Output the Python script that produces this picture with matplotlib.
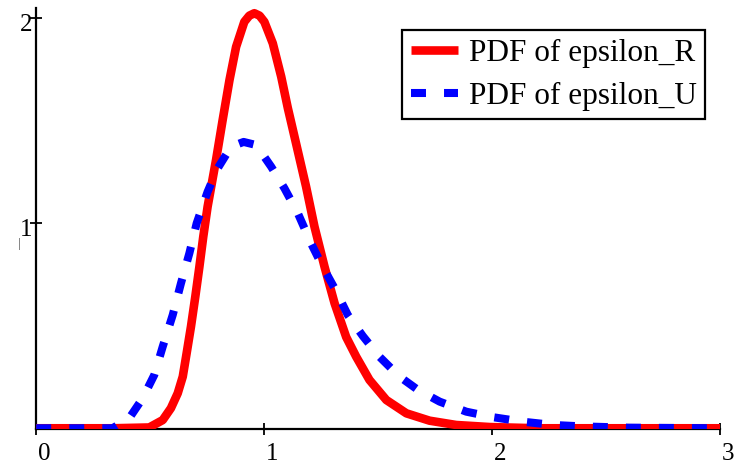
import matplotlib
matplotlib.use("Agg")
import matplotlib.pyplot as plt
from matplotlib.transforms import ScaledTranslation

plt.rcParams['font.family'] = ['Liberation Serif', 'DejaVu Serif']

# PDF of epsilon_R
x_r = [0.0, 0.335, 0.496, 0.555, 0.591, 0.621, 0.643, 0.66, 0.679, 0.698,
       0.716, 0.733, 0.752, 0.789, 0.818, 0.848, 0.877, 0.913, 0.935, 0.957,
       0.98, 1.001, 1.038, 1.075, 1.104, 1.14, 1.184, 1.221, 1.265, 1.309,
       1.36, 1.404, 1.462, 1.536, 1.624, 1.726, 1.843, 1.99, 2.2, 3.0]
y_r = [0.0, 0.0, 0.004, 0.04, 0.098, 0.171, 0.252, 0.366, 0.496, 0.642,
       0.788, 0.935, 1.081, 1.309, 1.504, 1.699, 1.861, 1.983, 2.013, 2.025,
       2.013, 1.983, 1.878, 1.715, 1.562, 1.39, 1.179, 0.983, 0.788, 0.61,
       0.445, 0.349, 0.236, 0.138, 0.073, 0.037, 0.016, 0.006, 0.0, 0.0]

# PDF of epsilon_U
x_u = [0.0, 0.335, 0.408, 0.467, 0.518, 0.555, 0.599, 0.635, 0.672, 0.704,
       0.752, 0.796, 0.855, 0.91, 0.965, 1.031, 1.089, 1.148, 1.206, 1.257,
       1.313, 1.367, 1.433, 1.506, 1.594, 1.675, 1.77, 1.887, 2.004, 2.136,
       2.27, 2.40, 2.6, 3.0]
y_u = [0.0, 0.0, 0.049, 0.146, 0.26, 0.398, 0.553, 0.707, 0.854, 1.0,
       1.154, 1.268, 1.374, 1.397, 1.382, 1.276, 1.171, 1.049, 0.902, 0.788,
       0.675, 0.553, 0.45, 0.349, 0.252, 0.187, 0.13, 0.081, 0.054, 0.032,
       0.016, 0.009, 0.003, 0.0]

x_ticks = [0, 1, 2, 3]
y_ticks = [1, 2]
labels = ['PDF of epsilon_R', 'PDF of epsilon_U']

W, H = 736, 465
fig = plt.figure(figsize=(W/100, H/100), dpi=100)
ax = fig.add_axes([36.2/W, 1-429.3/H, (720-36.2)/W, (429.3-8.3)/H])

ax.plot(x_r, y_r, color='#ff0000', lw=6.2, solid_joinstyle='round',
        solid_capstyle='butt', label=labels[0], zorder=3)
ax.plot(x_u, y_u, color='#0000ff', lw=5.8, dashes=(1.86, 2.24),
        dash_capstyle='butt', dash_joinstyle='round', label=labels[1], zorder=4)

ax.set_xlim(0, 3)
ax.set_ylim(-0.005, 2.049)
ax.set_xticks(x_ticks)
ax.set_yticks(y_ticks)
ax.set_xticklabels([str(t) for t in x_ticks])
ax.set_yticklabels([str(t) for t in y_ticks])
for s in ['top', 'right']:
    ax.spines[s].set_visible(False)
for s in ['left', 'bottom']:
    ax.spines[s].set_linewidth(1.6)
    ax.spines[s].set_color('black')
    ax.spines[s].set_zorder(2)
ax.tick_params(axis='both', direction='inout', length=9, width=1.3,
               labelsize=18, colors='black')
ax.tick_params(axis='y', pad=-1.5)
ax.tick_params(axis='x', pad=5.5)

for lbl in ax.get_xticklabels():
    lbl.set_ha('left')
    lbl.set_transform(lbl.get_transform() + ScaledTranslation(1.5/100, 0, fig.dpi_scale_trans))
for lbl in ax.get_yticklabels():
    lbl.set_transform(lbl.get_transform() + ScaledTranslation(0, -4.5/100, fig.dpi_scale_trans))

leg = ax.legend(loc='upper left', bbox_to_anchor=(402/W, 1-30/H),
                bbox_transform=fig.transFigure, borderaxespad=0,
                fontsize=22.5, frameon=True, fancybox=False,
                handlelength=1.5, handletextpad=0.35, borderpad=0.28,
                labelspacing=0.44)
leg.get_frame().set_edgecolor('black')
leg.get_frame().set_linewidth(1.6)
leg.get_frame().set_alpha(1)

fig.text(19/W, 1-244/H, '|', fontsize=9, color='#444444', ha='center', va='center')

fig.savefig('out.png', dpi=100)
